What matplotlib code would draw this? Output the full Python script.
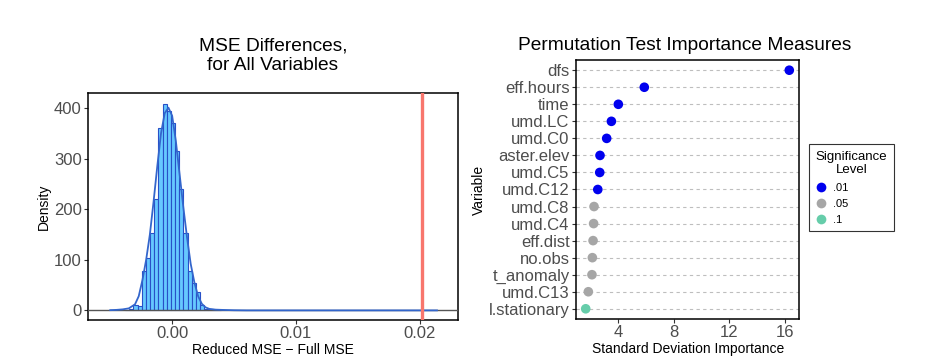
import numpy as np
import matplotlib.pyplot as plt
from matplotlib.lines import Line2D

plt.rcParams['font.family'] = ['Liberation Sans', 'DejaVu Sans']

# ---- left panel data: histogram of MSE differences (density scale) ----
bin_width = 0.000337
bin_lefts = [-0.003808, -0.003471, -0.003134, -0.002797, -0.002460, -0.002123,
             -0.001786, -0.001449, -0.001112, -0.000775, -0.000438, -0.000101,
             0.000236, 0.000573, 0.000910, 0.001247, 0.001584, 0.001921,
             0.002258, 0.002595, 0.002932, 0.003269, 0.003606]
bin_density = [1, 3, 10, 9, 77, 104, 153, 220, 361, 409, 394, 371,
               316, 240, 153, 77, 55, 36, 11, 3, 2, 1, 1]

# kernel density curve
kde_x = [-0.0050, -0.0045, -0.0040, -0.0035, -0.0030, -0.0027, -0.0024, -0.0021,
         -0.0018, -0.0015, -0.0012, -0.0009, -0.0006, -0.0003, 0.0000, 0.0003,
         0.0006, 0.0009, 0.0012, 0.0015, 0.0018, 0.0021, 0.0024, 0.0027,
         0.0030, 0.0035, 0.0040, 0.0050, 0.0060, 0.0214]
kde_y = [0.5, 1, 2, 4, 12, 28, 60, 100, 150, 215, 285, 350, 390, 401, 385, 335,
         270, 205, 145, 92, 55, 28, 13, 6, 3, 1.5, 1, 0.3, 0, 0]

observed_diff = 0.0202

# ---- right panel data: permutation importance ----
variables = ['dfs', 'eff.hours', 'time', 'umd.LC', 'umd.C0', 'aster.elev', 'umd.C5',
             'umd.C12', 'umd.C8', 'umd.C4', 'eff.dist', 'no.obs', 't_anomaly',
             'umd.C13', 'l.stationary']
importance = [16.31, 5.87, 4.00, 3.50, 3.16, 2.68, 2.66, 2.52, 2.25, 2.22, 2.18,
              2.13, 2.10, 1.84, 1.65]
signif = ['.01', '.01', '.01', '.01', '.01', '.01', '.01', '.01', '.05', '.05',
          '.05', '.05', '.05', '.05', '.1']
level_names = ['.01', '.05', '.1']
level_colors = {'.01': '#0000EE', '.05': '#A6A6A6', '.1': '#66CDAA'}

tick_gray = '#4D4D4D'

fig = plt.figure(figsize=(9.43, 3.64), dpi=100)

# ========== left: histogram ==========
ax1 = fig.add_axes([0.0933, 0.1209, 0.3924, 0.6236])
ax1.bar(bin_lefts, bin_density, width=bin_width, align='edge',
        color='#66C8FF', edgecolor='#2850C8', linewidth=0.8, zorder=2)
ax1.axhline(0, color='#555555', linewidth=1.0, zorder=3)
ax1.plot(kde_x, kde_y, color='#3366CC', linewidth=1.3, zorder=4)
ax1.axvline(observed_diff, color='#F8766D', linewidth=2.4, zorder=5)
ax1.set_xlim(-0.0068, 0.0231)
ax1.set_ylim(-19, 430)
ax1.set_xticks([0.0, 0.01, 0.02])
ax1.set_xticklabels(['0.00', '0.01', '0.02'])
ax1.set_yticks([0, 100, 200, 300, 400])
ax1.set_xlabel('Reduced MSE \u2212 Full MSE', fontsize=10, labelpad=1)
ax1.set_ylabel('Density', fontsize=10, labelpad=2)

# ========== right: dot plot ==========
ax2 = fig.add_axes([0.6108, 0.1236, 0.2368, 0.7116])
ypos = np.arange(len(variables))[::-1]
for y in ypos:
    ax2.axhline(y, color='#BEBEBE', linewidth=0.8, linestyle=(0, (3, 3)), zorder=1)
ax2.scatter(importance, ypos, c=[level_colors[s] for s in signif], s=48,
            edgecolors='none', zorder=3)
ax2.set_yticks(ypos)
ax2.set_yticklabels(variables)
ax2.set_ylim(-0.6, len(variables) - 0.4)
ax2.set_xlim(0.95, 17.03)
ax2.set_xticks([4, 8, 12, 16])
ax2.set_xlabel('Standard Deviation Importance', fontsize=10, labelpad=1)
ax2.set_ylabel('Variable', fontsize=10, labelpad=2)

for ax in (ax1, ax2):
    for sp in ax.spines.values():
        sp.set_color('black')
        sp.set_linewidth(1.1)
    ax.tick_params(axis='both', labelsize=12, labelcolor=tick_gray, color='#333333',
                   length=3, width=0.8, pad=1.5)

# titles
fig.text(0.2895, 0.846, 'MSE Differences,\nfor All Variables', fontsize=13.8,
         ha='center', va='center', linespacing=1.2)
fig.text(0.7259, 0.876, 'Permutation Test Importance Measures', fontsize=13.8,
         ha='center', va='center')

# legend
handles = [Line2D([], [], marker='o', linestyle='none', markersize=7,
                  markerfacecolor=level_colors[l], markeredgecolor='none', label=l)
           for l in level_names]
leg = fig.legend(handles=handles, title='Significance\nLevel', loc='upper left',
                 bbox_to_anchor=(809 / 943, 1 - 144 / 364), fontsize=8,
                 title_fontsize=9.5, frameon=True, fancybox=False,
                 handlelength=1.0, handletextpad=0.6, labelspacing=0.55,
                 borderpad=0.6, borderaxespad=0, alignment='left')
leg.get_frame().set_edgecolor('black')
leg.get_frame().set_linewidth(0.8)
leg.get_title().set_multialignment('center')

fig.savefig('out.png', dpi=100)
